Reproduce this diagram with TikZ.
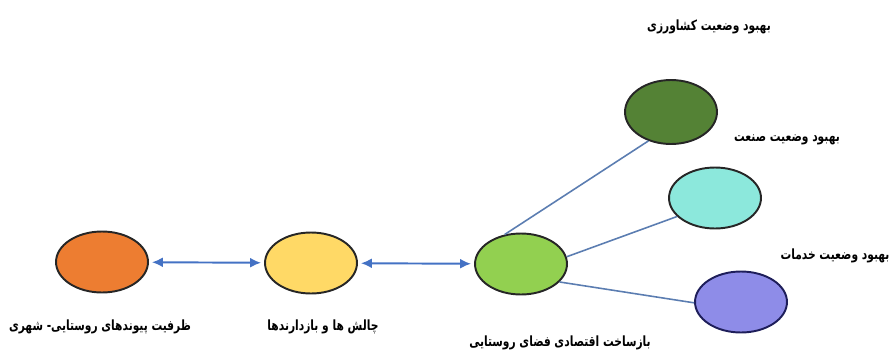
\documentclass[tikz,border=0pt]{standalone}
\usepackage{fontspec}
\newfontfamily\farsi[Script=Arabic,FakeStretch=0.76]{DejaVu Sans}
\TeXXeTstate=1
\usetikzlibrary{shapes.geometric,arrows.meta}
\definecolor{arrow blue}{HTML}{4472C4}
\definecolor{line blue}{HTML}{5B7DB1}
\newcommand{\fa}[1]{\beginR #1\endR}
\tikzset{my ellipse/.style={draw=black!85, line width=1.1pt, ellipse, minimum width=1.84cm, minimum height=1.22cm, inner sep=0pt},
my label/.style={font=\farsi\bfseries\fontsize{8}{9}\selectfont, inner sep=0pt},
my arrow/.style={{Latex[length=0.22cm,width=0.2cm]}-{Latex[length=0.22cm,width=0.2cm]}, draw=arrow blue, line width=1.1pt, shorten <=0.06cm, shorten >=0.06cm},
my line/.style={draw=line blue, line width=0.9pt},}

\begin{document}
\begin{tikzpicture}[x=0.02cm,y=-0.02cm]
\useasboundingbox (0,0) rectangle (890,349);
\node [my ellipse,fill = {rgb,255:red,237;green,125;blue,49}] (pivand) at (102,262) {};
\node [my ellipse,fill = {rgb,255:red,255;green,217;blue,102}] (chalesh) at (311,263) {};
\node [my ellipse,fill = {rgb,255:red,146;green,208;blue,80}] (bazsakht) at (521,264) {};
\node [my ellipse,fill = {rgb,255:red,84;green,130;blue,53},minimum height=1.28cm] (keshavarzi) at (671,112) {};
\node [my ellipse,fill = {rgb,255:red,140;green,232;blue,220}] (sanat) at (715,198) {};
\node [my ellipse,fill = {rgb,255:red,142;green,140;blue,232},draw={rgb,255:red,30;green,30;blue,90}] (khadamat) at (741,302) {};
\node [my label] (pivand label) at (100,327) {\fa{ظرفیت پیوندهای روستایی- شهری}};
\node [my label] (chalesh label) at (323,327) {\fa{چالش ها و بازدارندها}};
\node [my label] (bazsakht label) at (560,343) {\fa{بازساخت اقتصادی فضای روستایی}};
\node [my label] (keshavarzi label) at (709,27) {\fa{بهبود وضعیت کشاورزی}};
\node [my label] (sanat label) at (787,140) {\fa{بهبود وضعیت صنعت}};
\node [my label] (khadamat label) at (835,256) {\fa{بهبود وضعیت خدمات}};
\draw [my arrow] (pivand) -- (chalesh);
\draw [my arrow] (chalesh) -- (bazsakht);
\draw [my line] (bazsakht.119) -- (keshavarzi.232);
\draw [my line] (bazsakht.9) -- (sanat.206);
\draw [my line] (bazsakht.335) -- (khadamat.181);
\end{tikzpicture}
\end{document}
